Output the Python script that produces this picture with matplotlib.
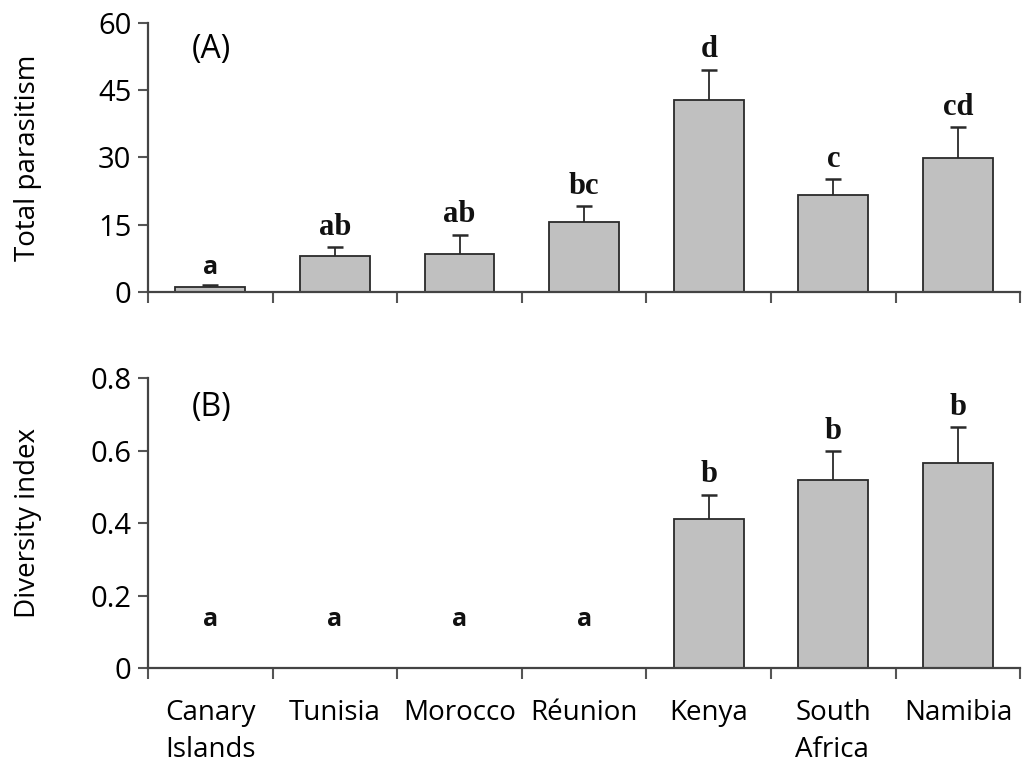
import matplotlib
matplotlib.use("Agg")
import matplotlib.pyplot as plt
import numpy as np

sites = ["Canary\nIslands", "Tunisia", "Morocco", "Réunion", "Kenya", "South\nAfrica", "Namibia"]
parasitism = [1.2, 8.0, 8.5, 15.6, 42.7, 21.7, 29.9]
parasitism_se = [0.4, 2.0, 4.3, 3.6, 6.8, 3.5, 6.9]
parasitism_grp = ["a", "ab", "ab", "bc", "d", "c", "cd"]
diversity = [0, 0, 0, 0, 0.41, 0.52, 0.565]
diversity_se = [0, 0, 0, 0, 0.068, 0.078, 0.10]
diversity_grp = ["a", "a", "a", "a", "b", "b", "b"]

plt.rcParams['font.family'] = ['Open Sans', 'DejaVu Sans']
ink = "#2a2a2a"

fig = plt.figure(figsize=(10.25, 7.66), dpi=100)
ax1 = fig.add_axes([0.1444, 0.6184, 0.851, 0.352])
ax2 = fig.add_axes([0.1444, 0.1279, 0.851, 0.3786])

x = np.arange(len(sites)) + 0.5


def style(ax, vals, errs, grps, ymax, yticks, ylabel, tag, letter_off, show_labels):
    ax.bar(x, vals, width=0.56, color="#c0c0c0", edgecolor=ink, linewidth=1.3, zorder=2)
    for xi, v, e in zip(x, vals, errs):
        if v > 0:
            eb = ax.errorbar(xi, v, yerr=[[0], [e]], fmt="none", ecolor=ink,
                             elinewidth=1.3, capsize=5.5, capthick=1.8, zorder=3)
            # only the upper cap, like the original
            eb[1][0].set_visible(False)
    for xi, v, e, g in zip(x, vals, errs, grps):
        if g == "a":
            fam, fs = ['Open Sans', 'DejaVu Sans'], 18
        else:
            fam, fs = ['Liberation Serif'], 22
        y = v + e + letter_off if v > 0 else 0.125 * ymax
        ax.text(xi, y, g, ha="center", va="bottom", fontsize=fs,
                fontweight="bold", family=fam, color="#111111")
    ax.set_xlim(0, 7)
    ax.set_ylim(0, ymax)
    ax.set_yticks(yticks)
    ax.set_xticks(np.arange(0, 8), minor=True)
    ax.set_xticks(x)
    if show_labels:
        ax.set_xticklabels(sites, fontsize=20, multialignment="left", linespacing=1.45)
    else:
        ax.set_xticklabels([])
    ax.tick_params(axis="x", which="major", length=0, pad=22)
    ax.tick_params(axis="x", which="minor", length=8, width=1.5, color="#555555", direction="out")
    ax.tick_params(axis="y", length=7, width=1.5, color="#555555", labelsize=21, pad=5)
    for s in ["top", "right"]:
        ax.spines[s].set_visible(False)
    for s in ["left", "bottom"]:
        ax.spines[s].set_color("#444444")
        ax.spines[s].set_linewidth(1.6)
    ax.set_ylabel(ylabel, fontsize=20)
    ax.text(0.05, 0.9, tag, transform=ax.transAxes, fontsize=23, ha="left", va="center")


style(ax1, parasitism, parasitism_se, parasitism_grp, 60, [0, 15, 30, 45, 60],
      "Total parasitism", "(A)", 1.2, False)
style(ax2, diversity, diversity_se, diversity_grp, 0.8, [0, 0.2, 0.4, 0.6, 0.8],
      "Diversity index", "(B)", 0.015, True)
ax2.set_yticklabels(["0", "0.2", "0.4", "0.6", "0.8"])
ax1.yaxis.set_label_coords(-0.122, 0.5)
ax2.yaxis.set_label_coords(-0.122, 0.5)

fig.savefig("out.png", dpi=100)
